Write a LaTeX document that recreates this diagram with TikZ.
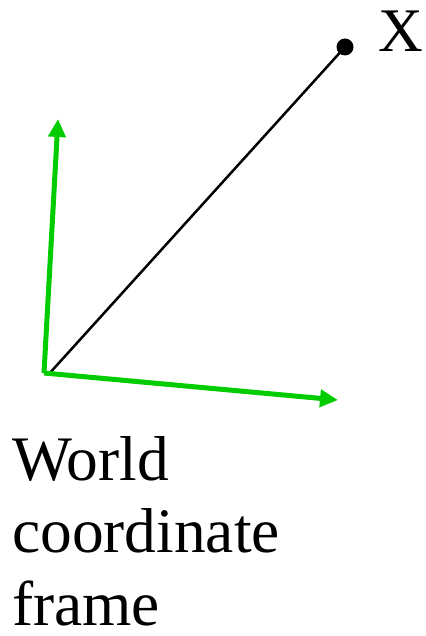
\documentclass[tikz,border=0pt]{standalone}
\usepackage{fontspec}
\setmainfont{Liberation Serif}
\usetikzlibrary{arrows.meta}
\definecolor{axgreen}{RGB}{0,204,0}
\begin{document}
\begin{tikzpicture}[x=1pt,y=-1pt,
  axis/.style={draw=axgreen,line width=5pt,-{Triangle[length=18pt,width=17pt]}},
  ray/.style={draw=black,line width=2.5pt},
  lbl/.style={font=\fontsize{63.4}{73}\selectfont,inner sep=0pt,anchor=base west}]
\useasboundingbox (0,0) rectangle (425,636);
\coordinate (O) at (44,373);
\coordinate (ty) at (58,119);
\coordinate (tx) at (338,400);
\coordinate (rs) at (48,375);
\node[circle,fill=black,inner sep=0pt,minimum size=17pt] (Xdot) at (345,47) {};
\node[font=\fontsize{62}{73}\selectfont,inner sep=0pt,anchor=base] (Xl) at (400.5,52) {X};
\draw[ray] (rs) -- (Xdot.center);
\draw[axis] (O) -- (ty);
\draw[axis] (O) -- (tx);
\node[lbl] (w1) at (12,480) {World};
\node[lbl] (w2) at (12,552) {coordinate};
\node[lbl,text depth=0pt] (w3) at (12,625) {frame};
\end{tikzpicture}
\end{document}
